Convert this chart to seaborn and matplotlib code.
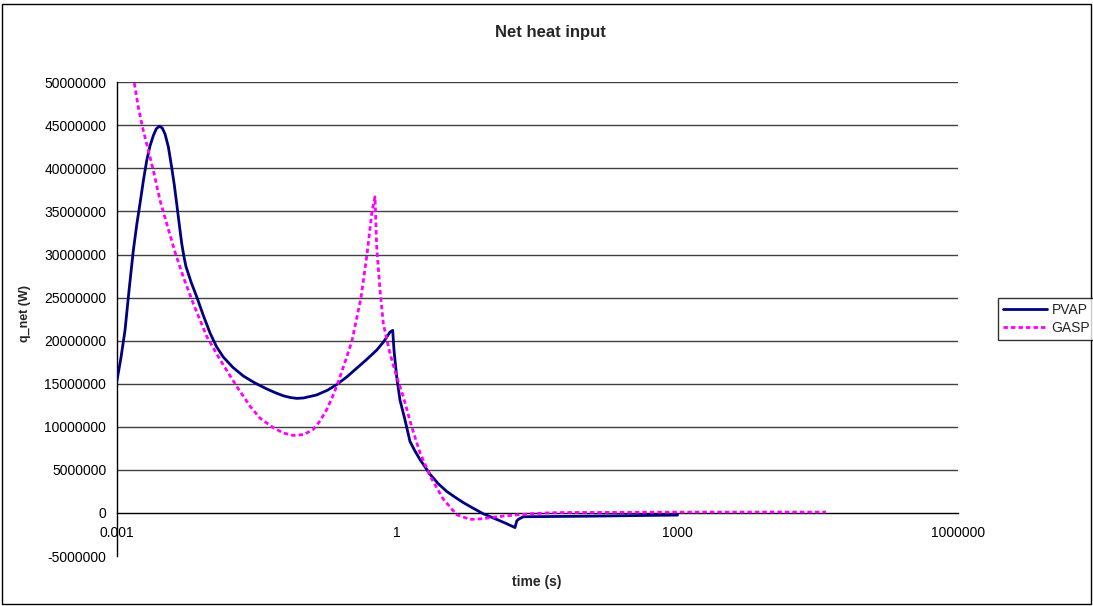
import numpy as np
import pandas as pd
import matplotlib
matplotlib.use("Agg")
import matplotlib.pyplot as plt
from matplotlib.ticker import FixedLocator, NullLocator, FuncFormatter
from matplotlib.patches import Rectangle
import seaborn as sns

# ---- data ----
pvap_time = [0.001, 0.00111, 0.001227, 0.00136, 0.001507, 0.00164, 0.001774, 0.00193,
             0.002094, 0.00227, 0.002463, 0.00265, 0.002857, 0.00307, 0.003289, 0.00357,
             0.003877, 0.00413, 0.004385, 0.00467, 0.004958, 0.00523, 0.00551, 0.00625,
             0.007174, 0.0084, 0.009956, 0.0117, 0.01381, 0.0175, 0.02261, 0.0300,
             0.04023, 0.050, 0.06056, 0.072, 0.08423, 0.100, 0.1378, 0.180,
             0.2256, 0.290, 0.3693, 0.470, 0.6043, 0.720, 0.8387, 0.8965,
             0.9256, 0.9892, 1.073, 1.214, 1.372, 1.55, 1.756, 2.246,
             2.75, 3.389, 4.2, 5.103, 6.5, 8.351, 11.61, 14.5,
             18.23, 19.01, 19.77, 22.36, 39.8, 124.5, 396.0, 1000.0]
pvap_q = [15.2e6, 18.0e6, 21.2e6, 26.0e6, 30.5e6, 33.5e6, 35.9e6, 38.6e6,
          40.9e6, 42.6e6, 43.8e6, 44.6e6, 44.9e6, 44.7e6, 44.0e6, 42.5e6,
          40.1e6, 38.1e6, 35.9e6, 33.5e6, 31.3e6, 29.8e6, 28.6e6, 26.8e6,
          25.1e6, 23.0e6, 20.9e6, 19.3e6, 18.1e6, 16.9e6, 15.9e6, 15.1e6,
          14.4e6, 13.95e6, 13.6e6, 13.4e6, 13.3e6, 13.35e6, 13.7e6, 14.25e6,
          14.9e6, 15.8e6, 16.8e6, 17.8e6, 18.9e6, 19.9e6, 21.0e6, 21.2e6,
          18.9e6, 15.8e6, 13.1e6, 10.8e6, 8.3e6, 7.2e6, 6.2e6, 4.5e6,
          3.4e6, 2.5e6, 1.8e6, 1.2e6, 0.55e6, -0.1e6, -0.75e6, -1.2e6,
          -1.7e6, -0.95e6, -0.75e6, -0.44e6, -0.42e6, -0.37e6, -0.3e6, -0.25e6]

gasp_time = [0.001543, 0.001702, 0.001926, 0.002178, 0.002463, 0.002905, 0.003426, 0.004203,
             0.005158, 0.006597, 0.009179, 0.01274, 0.01921, 0.02667, 0.03412, 0.04734,
             0.060, 0.07748, 0.100, 0.1268, 0.150, 0.1764, 0.200, 0.2256,
             0.2768, 0.3290, 0.4106, 0.4758, 0.5383, 0.5795, 0.6043, 0.6556,
             0.7111, 0.8387, 0.9892, 1.164, 1.431, 1.756, 2.246, 3.117,
             4.336, 6.017, 8.351, 10.5, 13.66, 18.0, 26.38, 40.0,
             59.9, 1738.0, 38700.0]
gasp_q = [49.9e6, 47.1e6, 44.4e6, 42.1e6, 39.8e6, 36.3e6, 33.6e6, 30.3e6,
          27.4e6, 24.3e6, 20.5e6, 17.8e6, 14.7e6, 12.4e6, 11.0e6, 9.9e6,
          9.3e6, 9.0e6, 9.1e6, 9.7e6, 10.7e6, 12.0e6, 13.3e6, 14.7e6,
          17.5e6, 20.0e6, 25.0e6, 30.0e6, 35.0e6, 36.7e6, 30.9e6, 25.9e6,
          22.0e6, 18.5e6, 15.8e6, 13.5e6, 10.0e6, 7.0e6, 4.3e6, 1.6e6,
          -0.2e6, -0.75e6, -0.67e6, -0.5e6, -0.37e6, -0.25e6, -0.1e6, 0.0,
          0.05e6, 0.1e6, 0.1e6]

series_names = ["PVAP", "GASP"]
x_ticks = [0.001, 1, 1000, 1000000]
x_tick_labels = ["0.001", "1", "1000", "1000000"]
y_ticks = [-5000000, 0, 5000000, 10000000, 15000000, 20000000, 25000000,
           30000000, 35000000, 40000000, 45000000, 50000000]

df = pd.concat([
    pd.DataFrame({"time": pvap_time, "q": pvap_q, "series": "PVAP"}),
    pd.DataFrame({"time": gasp_time, "q": gasp_q, "series": "GASP"}),
], ignore_index=True)

sns.set_style("white")
plt.rcParams["font.family"] = ["Liberation Sans", "DejaVu Sans"]

W, H = 1093, 606
fig = plt.figure(figsize=(W / 100, H / 100), dpi=100)
ax = fig.add_axes([116.7 / W, 1 - 556 / H, (958 - 116.7) / W, (556 - 82.3) / H])

# horizontal gridlines at the positive tick values (Excel style)
for v in y_ticks:
    if v > 0:
        ax.axhline(v, color="#404040", linewidth=1.0, zorder=0.5)

palette = {"PVAP": "#000080", "GASP": "#FF00FF"}
dashes = {"PVAP": "", "GASP": (1.6, 1.1)}
sns.lineplot(data=df, x="time", y="q", hue="series", style="series",
             hue_order=series_names, style_order=series_names,
             palette=palette, dashes=dashes, estimator=None, sort=False,
             linewidth=2.0, ax=ax, legend=True, zorder=3)

ax.set_xscale("log")
ax.set_xlim(1e-3, 1e6)
ax.set_ylim(-5e6, 5e7)
ax.set_xticks(x_ticks)
ax.set_xticklabels(x_tick_labels)
ax.xaxis.set_minor_locator(NullLocator())
ax.yaxis.set_major_locator(FixedLocator(y_ticks))
ax.yaxis.set_minor_locator(NullLocator())
ax.yaxis.set_major_formatter(FuncFormatter(lambda v, p: f"{int(round(v))}"))
ax.grid(False)

ax.set_xlabel("")
ax.set_ylabel("")
for s in ["top", "right"]:
    ax.spines[s].set_visible(False)
ax.spines["bottom"].set_position(("data", 0))
ax.spines["bottom"].set_color("black")
ax.spines["left"].set_color("black")
ax.spines["bottom"].set_linewidth(1.0)
ax.spines["left"].set_linewidth(1.0)
ax.spines["bottom"].set_zorder(2)
ax.tick_params(axis="both", which="major", direction="out", length=4.5, width=1,
               color="black", labelsize=10, labelcolor="black")
ax.tick_params(axis="x", pad=5)
ax.tick_params(axis="y", pad=3)

# legend
handles, labels = ax.get_legend_handles_labels()
ax.get_legend().remove()
for h in handles:
    h.set_linewidth(2.0)
leg = fig.legend(handles, labels, loc="upper left",
                 bbox_to_anchor=(998 / W, 1 - 298 / H), frameon=True, fancybox=False,
                 fontsize=10, handlelength=3.2, borderpad=0.35, labelspacing=0.3,
                 handletextpad=0.3, borderaxespad=0)
leg.get_frame().set_edgecolor("black")
leg.get_frame().set_linewidth(1.0)

fig.text(550 / W, 1 - 32 / H, "Net heat input", ha="center", va="center",
         fontsize=12, fontweight="bold")
fig.text(537 / W, 1 - 582 / H, "time (s)", ha="center", va="center",
         fontsize=10, fontweight="bold")
fig.text(25 / W, 1 - 313 / H, "q_net (W)", ha="center", va="center",
         rotation=90, fontsize=9, fontweight="bold")

fig.patches.append(Rectangle((2 / W, 2 / H), 1 - 4 / W, 1 - 6 / H,
                             transform=fig.transFigure, fill=False,
                             edgecolor="black", linewidth=1.0))

fig.savefig("out.png", dpi=100, facecolor="white")
